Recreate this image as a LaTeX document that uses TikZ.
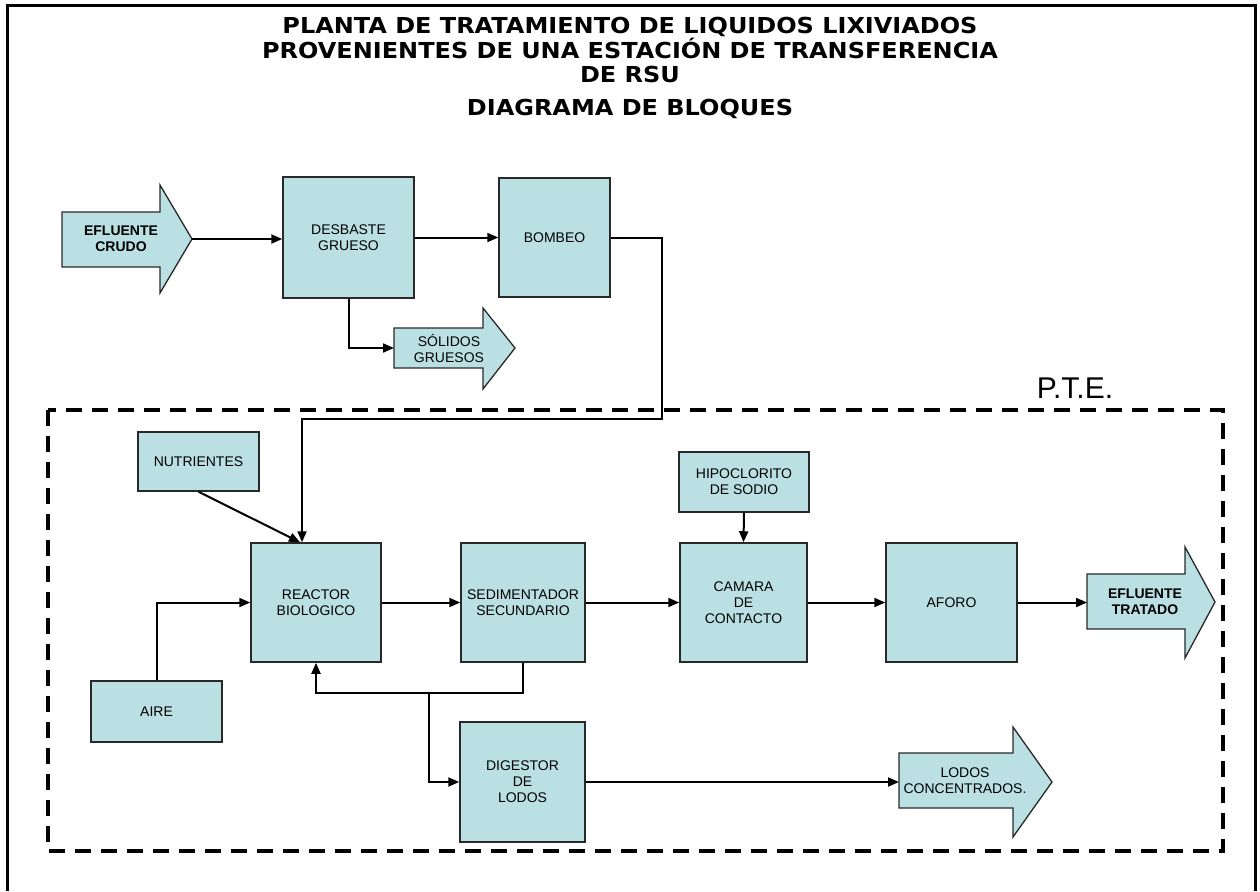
\documentclass[tikz,border=0pt]{standalone}
\usepackage{fontspec}
\setmainfont{Liberation Sans}
\newfontfamily\titlefont[FakeStretch=1.09]{DejaVu Sans}
\usetikzlibrary{arrows.meta}
\definecolor{boxfill}{RGB}{186,224,228}
\definecolor{boxline}{RGB}{40,40,40}
\begin{document}
\begin{tikzpicture}[x=1pt,y=-1pt,
  blk/.style={draw=boxline, line width=1.5pt, fill=boxfill, inner sep=0pt, align=center,
    font=\fontsize{14}{16}\selectfont},
  bigarrow/.style={draw=boxline, line width=1.3pt, fill=boxfill, line join=miter},
  arrowtext/.style={align=center, font=\fontsize{14}{16}\selectfont, inner sep=0pt},
  conn/.style={line width=2pt, draw=black},
  arr/.style={-{Triangle[length=11pt,width=9pt]}},
  ttl/.style={align=center, inner sep=0pt, font=\titlefont\bfseries\fontsize{22}{24.5}\selectfont},
]
\useasboundingbox (0,0) rectangle (1260,891);
% outer frame
\draw[line width=3pt] (7,891) -- (7,6) -- (1255,6) -- (1255,891);
% titles
\node[ttl] (title) at (630,50) {PLANTA DE TRATAMIENTO DE LIQUIDOS LIXIVIADOS\\PROVENIENTES DE UNA ESTACIÓN DE TRANSFERENCIA\\DE RSU};
\node[ttl] (subtitle) at (630,109) {DIAGRAMA DE BLOQUES};
% P.T.E. boundary
\draw[line width=4pt, dash pattern=on 16pt off 10pt] (48,410) rectangle (1223,851);
\node[font=\fontsize{30}{33}\selectfont, inner sep=0pt] (pte) at (1075,388) {P.T.E.};
% big arrows
\draw[bigarrow] (62,212) -- (160,212) -- (160,185) -- (192,239) -- (160,293) -- (160,267) -- (62,267) -- cycle;
\node[arrowtext, font=\bfseries\fontsize{14}{16}\selectfont] (crudo) at (121,239) {EFLUENTE\\CRUDO};
\coordinate (crudotip) at (192,239);
\draw[bigarrow] (394,328) -- (483,328) -- (483,308) -- (515,348) -- (483,389) -- (483,368) -- (394,368) -- cycle;
\node[arrowtext] (solidos) at (449,348) {SÓLIDOS\\GRUESOS};
\coordinate (solidostail) at (394,348);
\draw[bigarrow] (1087,574) -- (1185,574) -- (1185,547) -- (1215,602) -- (1185,658) -- (1185,629) -- (1087,629) -- cycle;
\node[arrowtext, font=\bfseries\fontsize{14}{16}\selectfont] (tratado) at (1145,602) {EFLUENTE\\TRATADO};
\coordinate (tratadotail) at (1087,602.5);
\draw[bigarrow] (899,753) -- (1013,753) -- (1013,727) -- (1052,782) -- (1013,837) -- (1013,808) -- (899,808) -- cycle;
\node[arrowtext] (lodos) at (965,781) {LODOS\\CONCENTRADOS.};
\coordinate (lodostail) at (899,782);
% blocks
\node[blk, minimum width=131pt, minimum height=121pt] (desbaste) at (348.5,237.5) {DESBASTE\\GRUESO};
\node[blk, minimum width=111pt, minimum height=119pt] (bombeo) at (554.5,237.5) {BOMBEO};
\node[blk, minimum width=121pt, minimum height=59pt] (nutrientes) at (198.5,461.5) {NUTRIENTES};
\node[blk, minimum width=130pt, minimum height=119pt] (reactor) at (316,602.5) {REACTOR\\BIOLOGICO};
\node[blk, minimum width=124pt, minimum height=119pt] (sed) at (523,602.5) {SEDIMENTADOR\\SECUNDARIO};
\node[blk, minimum width=127pt, minimum height=119pt] (camara) at (743.5,602.5) {CAMARA\\DE\\CONTACTO};
\node[blk, minimum width=131pt, minimum height=119pt] (aforo) at (951.5,602.5) {AFORO};
\node[blk, minimum width=130pt, minimum height=60pt] (hipo) at (744,482) {HIPOCLORITO\\DE SODIO};
\node[blk, minimum width=131pt, minimum height=61pt] (aire) at (156.5,711.5) {AIRE};
\node[blk, minimum width=125pt, minimum height=120pt] (digestor) at (522.5,782) {DIGESTOR\\DE\\LODOS};
% connectors
\coordinate (retA) at (662,237.5);
\coordinate (retB) at (662,419);
\coordinate (retC) at (302,419);
\coordinate (recA) at (523,693);
\coordinate (recB) at (316,693);
\coordinate (brA) at (429,693);
\coordinate (brB) at (429,782);
\draw[conn, arr] (crudotip) -- (crudotip -| desbaste.west);
\draw[conn, arr] (desbaste.east) -- (bombeo.west);
\draw[conn, arr] (desbaste.south) -- (desbaste.south |- solidostail) -- (solidostail);
\draw[conn, arr] (bombeo.east) -- (retA) -- (retB) -- (retC) -- ([xshift=-14pt]reactor.north);
\draw[conn, arr] (nutrientes.south) -- ([xshift=-16pt]reactor.north);
\draw[conn, arr] (aire.north) -- (aire.north |- reactor.west) -- (reactor.west);
\draw[conn, arr] (reactor.east) -- (sed.west);
\draw[conn, arr] (sed.east) -- (camara.west);
\draw[conn, arr] (camara.east) -- (aforo.west);
\draw[conn, arr] (aforo.east) -- (tratadotail);
\draw[conn, arr] (hipo.south) -- (camara.north);
\draw[conn, arr] (sed.south) -- (recA) -- (recB) -- (reactor.south);
\draw[conn, arr] (brA) -- (brB) -- (digestor.west);
\draw[conn, arr] (digestor.east) -- (lodostail);
\end{tikzpicture}
\end{document}
